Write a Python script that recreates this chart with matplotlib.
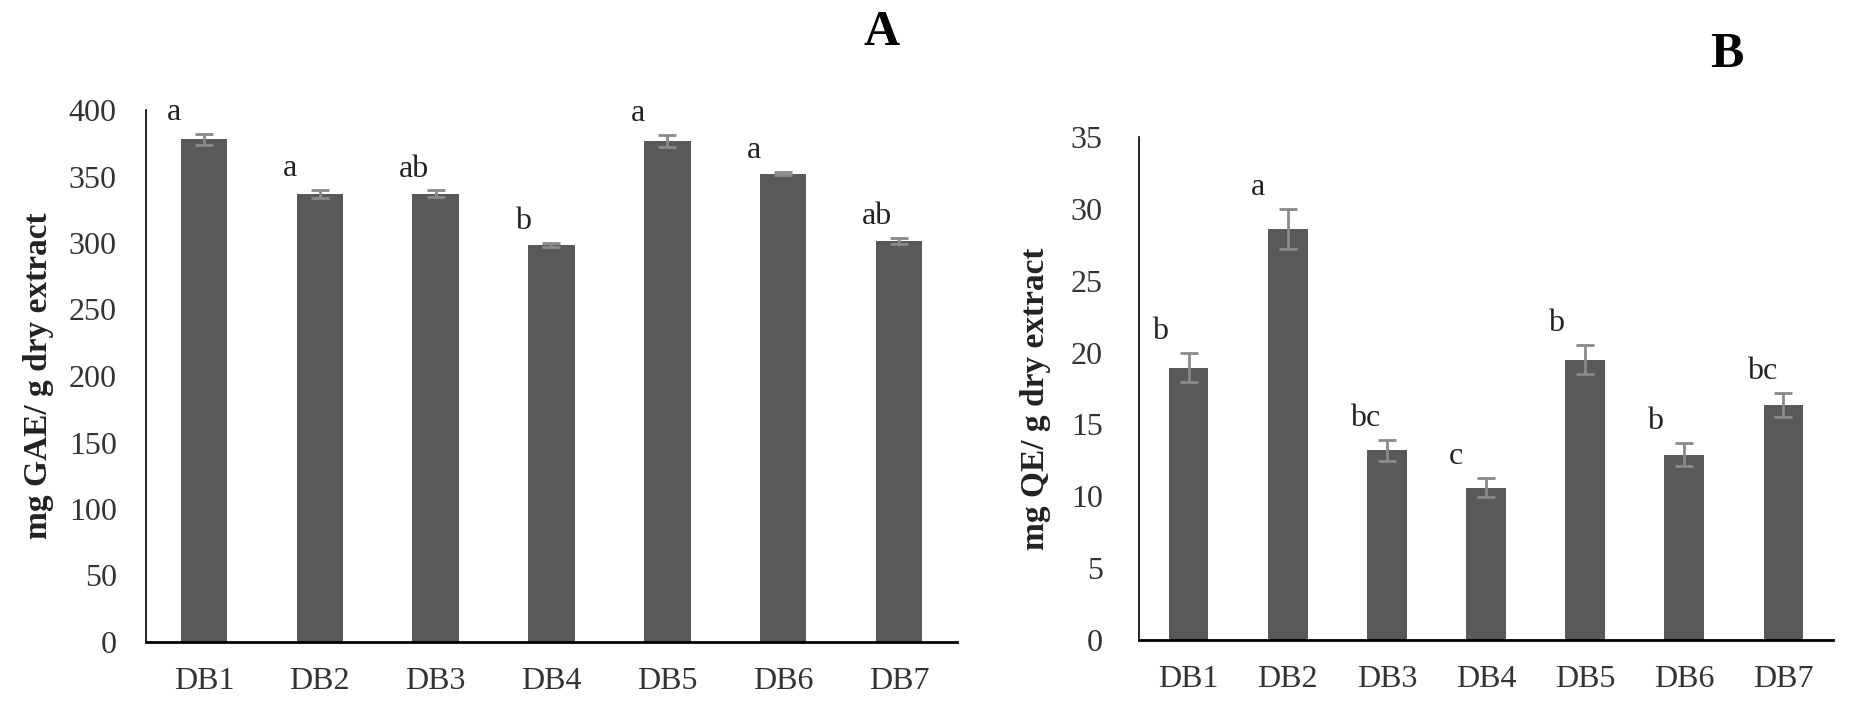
import matplotlib
matplotlib.use("Agg")
import matplotlib.pyplot as plt
import numpy as np

categories = ["DB1", "DB2", "DB3", "DB4", "DB5", "DB6", "DB7"]

tpc_values = [378, 337, 337, 298.5, 376.5, 352, 301.5]
tpc_errors = [4.3, 3.0, 2.5, 1.5, 4.5, 1.2, 2.5]
tpc_letters = ["a", "a", "ab", "b", "a", "a", "ab"]
tpc_yticks = [0, 50, 100, 150, 200, 250, 300, 350, 400]

tfc_values = [18.95, 28.6, 13.2, 10.6, 19.5, 12.9, 16.35]
tfc_errors = [1.0, 1.4, 0.75, 0.65, 1.0, 0.8, 0.85]
tfc_letters = ["b", "a", "bc", "c", "b", "b", "bc"]
tfc_yticks = [0, 5, 10, 15, 20, 25, 30, 35]

plt.rcParams["font.family"] = ["Liberation Serif", "DejaVu Serif"]

W, H = 1872, 724
fig = plt.figure(figsize=(W / 100, H / 100), dpi=100)

BAR = "#595959"
ERR = "#8a8a8a"
TXT = "#333333"


def px_axes(l, t, r, b):
    return [l / W, 1 - b / H, (r - l) / W, (b - t) / H]


def panel(rect, values, errors, letters, yticks, ylabel, label_xy, ypad):
    ax = fig.add_axes(rect)
    x = np.arange(len(categories))
    ax.bar(x, values, width=0.40, color=BAR, zorder=2)
    ax.errorbar(x, values, yerr=errors, fmt="none", ecolor=ERR,
                elinewidth=2.0, capsize=6.8, capthick=2.0, zorder=3)
    for xi, v, e, s in zip(x, values, errors, letters):
        ax.annotate(s, (xi, v + e), xytext=(-26.5, 10), textcoords="offset points",
                    ha="left", va="baseline", fontsize=23, color="#222222")
    ax.set_xlim(-0.5, len(categories) - 0.5)
    ax.set_ylim(yticks[0], yticks[-1])
    ax.set_yticks(yticks)
    ax.set_xticks(x)
    ax.set_xticklabels(categories)
    ax.tick_params(axis="both", length=0, labelsize=23, labelcolor=TXT)
    ax.tick_params(axis="y", pad=ypad)
    ax.tick_params(axis="x", pad=18)
    for s in ("top", "right"):
        ax.spines[s].set_visible(False)
    ax.spines["left"].set_linewidth(1.2)
    ax.spines["bottom"].set_linewidth(2.0)
    ax.set_ylabel(ylabel, fontsize=24, fontweight="bold", color="#222222")
    ax.yaxis.set_label_coords(*label_xy)
    return ax


panel(px_axes(146, 110, 957, 642), tpc_values, tpc_errors, tpc_letters,
      tpc_yticks, "mg GAE/ g dry extract", (-0.113, 0.5), 21)
panel(px_axes(1139, 137, 1833, 640), tfc_values, tfc_errors, tfc_letters,
      tfc_yticks, "mg QE/ g dry extract", (-0.127, 0.48), 26)

fig.text(882 / W, 1 - 33 / H, "A", fontsize=36, fontweight="bold",
         ha="center", va="center", color="black")
fig.text(1727 / W, 1 - 55 / H, "B", fontsize=36, fontweight="bold",
         ha="center", va="center", color="black")

fig.savefig("out.png", dpi=100)
